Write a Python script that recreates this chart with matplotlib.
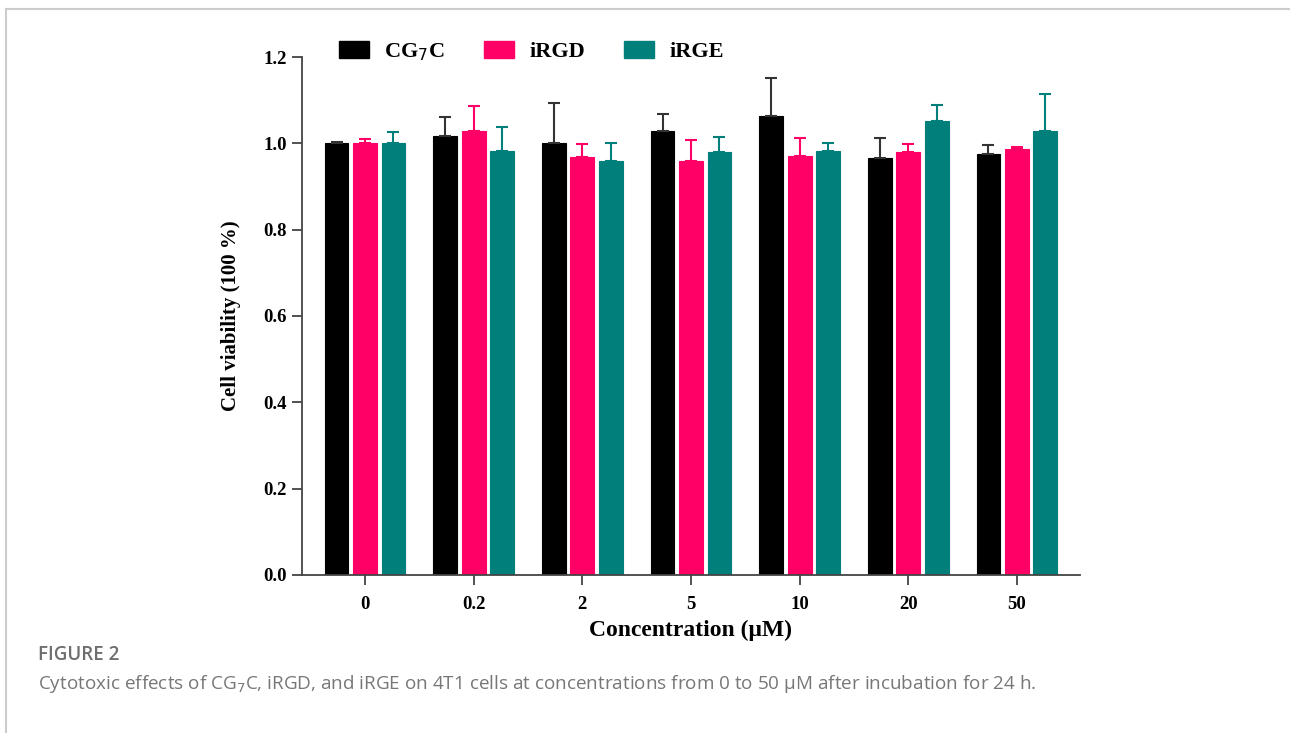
import matplotlib
matplotlib.use("Agg")
import matplotlib.pyplot as plt
from matplotlib.patches import Patch
from matplotlib.lines import Line2D
import numpy as np

# Concentrations (µM) and mean viability / upper SD for each peptide
concentrations = ["0", "0.2", "2", "5", "10", "20", "50"]
series_names = ["CG$_7$C", "iRGD", "iRGE"]
cg7c_mean = [1.000, 1.017, 1.000, 1.028, 1.063, 0.966, 0.975]
cg7c_err = [0.003, 0.044, 0.093, 0.040, 0.088, 0.046, 0.021]
irgd_mean = [1.000, 1.028, 0.969, 0.959, 0.971, 0.980, 0.986]
irgd_err = [0.010, 0.058, 0.029, 0.049, 0.041, 0.018, 0.006]
irge_mean = [1.000, 0.983, 0.959, 0.981, 0.983, 1.052, 1.028]
irge_err = [0.027, 0.056, 0.041, 0.034, 0.017, 0.037, 0.086]

colors = ["#000000", "#FF0066", "#007F7B"]
err_colors = ["#333333", "#FF0066", "#007F7B"]

fig = plt.figure(figsize=(12.9, 7.33), dpi=100)
ax = fig.add_axes([0.2341, 0.2156, 0.8372 - 0.2341, 0.9222 - 0.2156])

x = np.arange(len(concentrations))
width = 0.22
offset = 0.262
means = [cg7c_mean, irgd_mean, irge_mean]
errs = [cg7c_err, irgd_err, irge_err]
for i, (m, e) in enumerate(zip(means, errs)):
    pos = x + (i - 1) * offset
    ax.bar(pos, m, width=width, color=colors[i], edgecolor=colors[i],
           linewidth=0.8, zorder=2)
    ax.errorbar(pos, m, yerr=[np.zeros(len(e)), e], fmt="none",
                ecolor=err_colors[i], elinewidth=1.5, capsize=4.5,
                capthick=1.5, zorder=3)

ax.set_xlim(-0.58, 6.58)
ax.set_ylim(0, 1.2)
ax.set_yticks([0.0, 0.2, 0.4, 0.6, 0.8, 1.0, 1.2])
ax.set_yticklabels([f"{v:.1f}" for v in [0.0, 0.2, 0.4, 0.6, 0.8, 1.0, 1.2]])
ax.set_xticks(x)
ax.set_xticklabels(concentrations)

serif = "Liberation Serif"
for lab in ax.get_xticklabels() + ax.get_yticklabels():
    lab.set_fontfamily(serif)
    lab.set_fontweight("bold")
    lab.set_fontsize(13.5)

for s in ["top", "right"]:
    ax.spines[s].set_visible(False)
for s in ["left", "bottom"]:
    ax.spines[s].set_color("#444444")
    ax.spines[s].set_linewidth(1.3)
ax.tick_params(axis="both", direction="out", length=7, width=1.3,
               color="#444444", pad=4)
ax.tick_params(axis="x", pad=8)

ax.set_ylabel("Cell viability (100 %)", fontfamily=serif, fontweight="bold",
              fontsize=15, labelpad=16)
ax.set_xlabel("Concentration (μM)", fontfamily=serif, fontweight="bold",
              fontsize=17, labelpad=5)

handles = [Patch(facecolor=c, edgecolor=c) for c in colors]
leg = fig.legend(handles, series_names, loc="center",
                 bbox_to_anchor=(0.412, 0.929), ncol=3, frameon=False,
                 prop={"family": serif, "weight": "bold", "size": 16},
                 handlelength=1.35, handleheight=0.75, handletextpad=0.7,
                 columnspacing=1.75)

# Page frame lines
fig.add_artist(Line2D([0.0047, 1.0], [0.988, 0.988], transform=fig.transFigure,
                      color="#cccccc", linewidth=1.5))
fig.add_artist(Line2D([0.0047, 0.0047], [0.0, 0.988], transform=fig.transFigure,
                      color="#cccccc", linewidth=1.5))

# Caption
fig.text(38 / 1290, 1 - 655 / 733, "FIGURE 2", fontfamily="Open Sans",
         fontweight="semibold", fontsize=13.5, color="#6e6e6e", va="center")
fig.text(38 / 1290, 1 - 684 / 733,
         "Cytotoxic effects of CG$_7$C, iRGD, and iRGE on 4T1 cells at "
         "concentrations from 0 to 50 μM after incubation for 24 h.",
         fontfamily="Open Sans", fontsize=13.6, color="#777777", va="center")

fig.savefig("out.png", dpi=100)
